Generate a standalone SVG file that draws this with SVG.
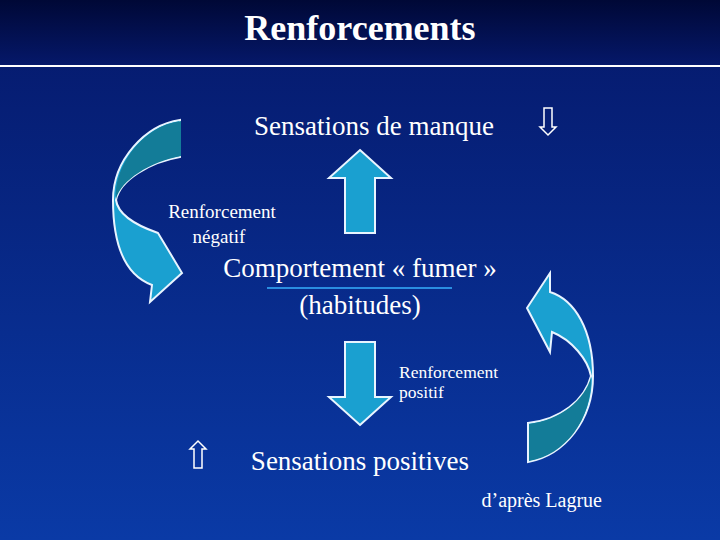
<svg xmlns="http://www.w3.org/2000/svg" width="720" height="540" viewBox="0 0 720 540">
<defs>
<linearGradient id="bg" x1="0" y1="0" x2="0" y2="1"><stop offset="0" stop-color="#05186a"/><stop offset="1" stop-color="#0a3aa6"/></linearGradient>
<linearGradient id="top" x1="0" y1="0" x2="0" y2="1"><stop offset="0" stop-color="#000836"/><stop offset="1" stop-color="#05186a"/></linearGradient>
<style>
.ar{fill:#1aa0d0;stroke:#e8f4ff;stroke-width:2}
.dk{fill:#137c98}
.t{font-family:"Liberation Serif","Times New Roman",serif;fill:#fff}
.sm{fill:none;stroke:#fff;stroke-width:1.5}
</style>
</defs>
<rect width="720" height="540" fill="url(#bg)"/>
<rect width="720" height="66" fill="url(#top)"/>
<line x1="0" y1="66" x2="720" y2="66" stroke="#fff" stroke-width="2"/>
<text class="t" x="360" y="40" text-anchor="middle" font-size="36" font-weight="bold">Renforcements</text>
<g id="connectors">
<g id="curveLeft">
<path class="ar" d="M180,120 L180,157 C150,162 120,180 116,200 C118,215 135,225 158,233 L182,273 L150,302 L152,285 C125,275 113,245 113,200 C113,160 145,125 180,120 Z"/>
<path class="dk" d="M181,121 L181,156 C150,162 121,180 116,199 C113,170 140,126 181,121 Z"/>
</g>
<g id="curveRight">
<path class="ar" d="M528,462 L528,423 C560,420 585,400 591,376 C588,360 572,340 552,332 L550,352 L527,308 L550,273 L550,292 C575,300 593,330 593,376 C593,420 565,455 528,462 Z"/>
<path class="dk" d="M529,461 L529,424 C560,420 585,400 591,377 C592,420 565,455 529,461 Z"/>
</g>
<path id="up" class="ar" d="M360,150 L391,178 L375,178 L375,233 L345,233 L345,178 L329,178 Z"/>
<path id="down" class="ar" d="M360,425 L391,397 L375,397 L375,342 L345,342 L345,397 L329,397 Z"/>
<path class="sm" d="M544,108 L552,108 L552,127 L556,127 L548,135 L540,127 L544,127 Z"/>
<path class="sm" d="M194,468 L202,468 L202,449 L206,449 L198,441 L190,449 L194,449 Z"/>
</g>
<g id="n1"><text class="t" x="374" y="135" text-anchor="middle" font-size="27">Sensations de manque</text></g>
<g id="n2"><text class="t" x="222" y="218" text-anchor="middle" font-size="19">Renforcement</text><text class="t" x="219" y="243" text-anchor="middle" font-size="19">négatif</text></g>
<g id="n3"><text class="t" x="360" y="277" text-anchor="middle" font-size="27">Comportement « fumer »</text>
<line x1="267" y1="288" x2="452" y2="288" stroke="#2a8ee0" stroke-width="2"/>
<text class="t" x="360" y="314" text-anchor="middle" font-size="27">(habitudes)</text></g>
<g id="n4"><text class="t" x="399" y="378" font-size="17.5">Renforcement</text><text class="t" x="399" y="398" font-size="17.5">positif</text></g>
<g id="n5"><text class="t" x="360" y="470" text-anchor="middle" font-size="27">Sensations positives</text></g>
<g id="n6"><text class="t" x="602" y="507" text-anchor="end" font-size="20">d’après Lagrue</text></g>
</svg>
